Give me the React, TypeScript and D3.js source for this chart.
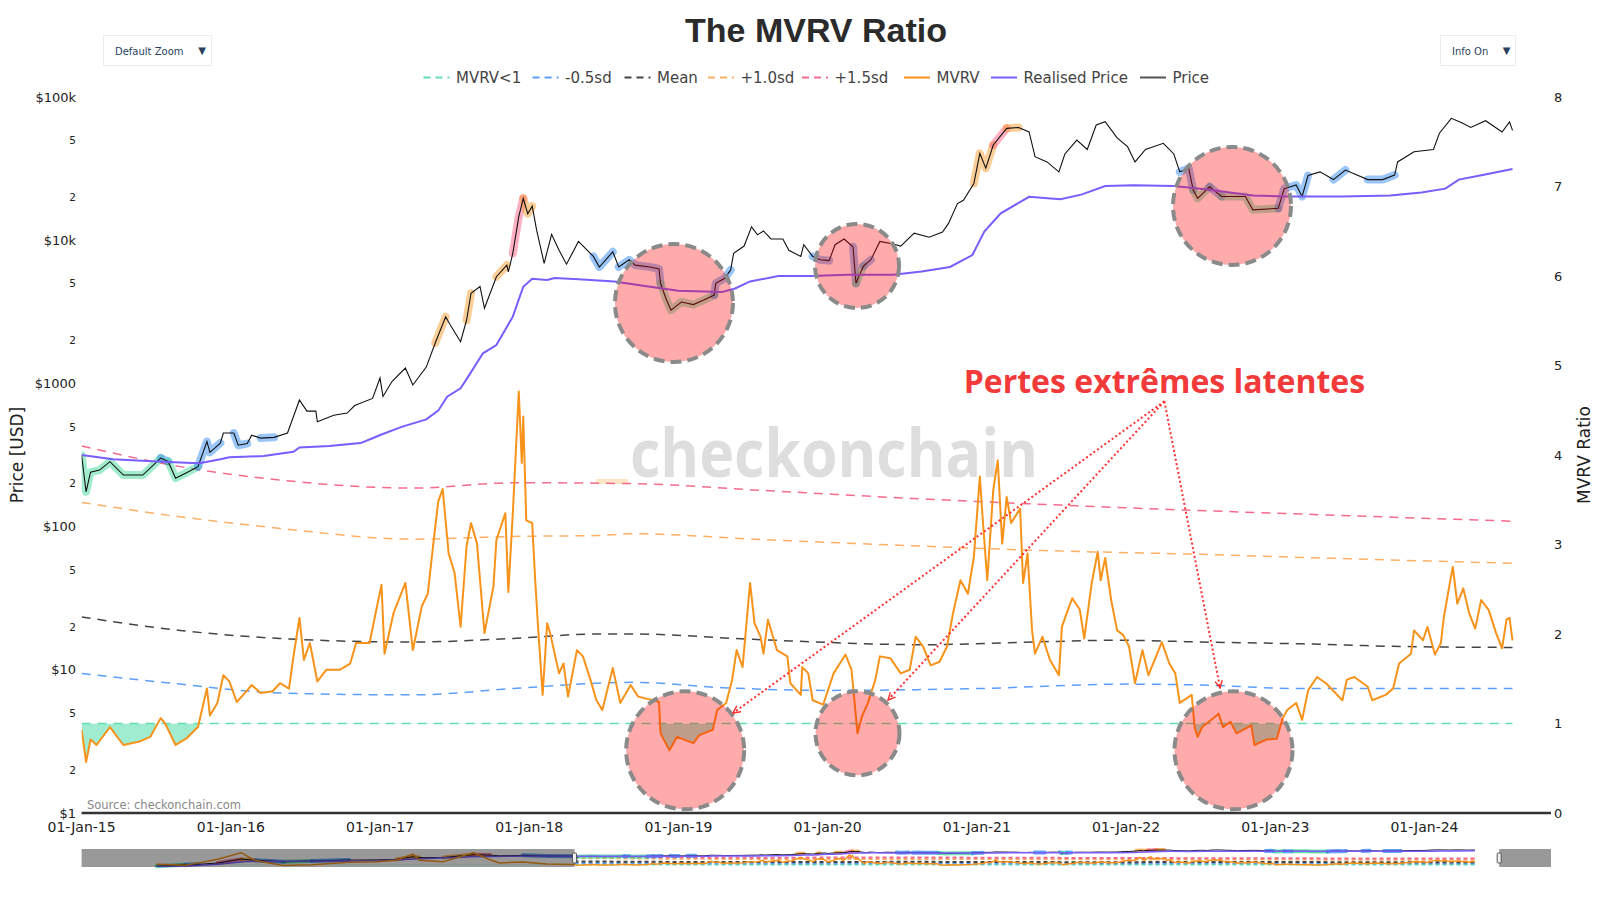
import React from 'react';
import * as d3 from 'd3';

type P = [number, number];

// ---------- DATA (decimal year, value) ----------
const price: P[] = [
  [2015.00,315],[2015.03,175],[2015.06,240],[2015.12,248],[2015.19,284],[2015.28,229],[2015.41,229],[2015.53,301],[2015.58,285],[2015.63,218],[2015.70,237],[2015.78,262],[2015.84,392],[2015.86,330],[2015.93,383],[2015.95,450],
  [2016.02,450],[2016.05,370],[2016.11,380],[2016.14,435],[2016.20,415],[2016.29,420],[2016.38,450],[2016.46,766],[2016.51,640],[2016.57,640],[2016.58,540],[2016.69,600],[2016.78,621],[2016.83,700],[2016.95,785],
  [2017.00,1090],[2017.02,810],[2017.08,1030],[2017.17,1280],[2017.22,975],[2017.31,1300],[2017.37,1915],[2017.44,2920],[2017.47,2570],[2017.54,1955],[2017.58,2760],[2017.61,4260],[2017.67,4750],[2017.70,3345],[2017.78,5560],[2017.85,6700],[2017.86,6000],[2017.89,8100],[2017.93,14600],[2017.96,19600],[2017.99,15300],
  [2018.02,17300],[2018.05,11700],[2018.10,6900],[2018.15,11000],[2018.20,8500],[2018.25,6800],[2018.33,9800],[2018.43,7700],[2018.47,6500],[2018.56,8300],[2018.60,6500],[2018.67,7300],[2018.71,6700],[2018.81,6500],[2018.87,6300],[2018.88,5000],[2018.92,3820],[2018.95,3250],
  [2019.02,3700],[2019.10,3550],[2019.17,3820],[2019.24,4140],[2019.25,5000],[2019.31,5420],[2019.35,6200],[2019.37,8100],[2019.44,9100],[2019.49,12400],[2019.53,10900],[2019.57,11600],[2019.62,10200],[2019.70,10200],[2019.74,8500],[2019.82,7700],[2019.84,9300],[2019.90,7700],[2019.95,7300],
  [2020.01,7200],[2020.05,9300],[2020.11,10200],[2020.17,9000],[2020.19,5000],[2020.24,6600],[2020.29,7300],[2020.35,9800],[2020.44,9400],[2020.49,9100],[2020.58,11200],[2020.68,10500],[2020.77,11400],[2020.81,13100],[2020.87,18000],[2020.91,19000],[2020.98,24900],
  [2021.02,40400],[2021.06,31800],[2021.11,46200],[2021.20,60400],[2021.28,61300],[2021.35,57000],[2021.39,38300],[2021.47,35200],[2021.55,30000],[2021.59,40000],[2021.67,50000],[2021.74,43000],[2021.80,63700],[2021.86,67300],[2021.94,51800],
  [2022.01,45000],[2022.06,35200],[2022.13,43000],[2022.25,47500],[2022.32,40000],[2022.36,30000],[2022.42,31800],[2022.45,22400],[2022.48,19600],[2022.56,23600],[2022.64,20200],[2022.80,20200],[2022.85,16300],
  [2023.02,16700],[2023.06,22900],[2023.14,24300],[2023.18,20200],[2023.22,28300],[2023.30,30000],[2023.39,26500],[2023.47,30900],[2023.62,26500],[2023.72,26500],[2023.80,28500],[2023.82,35200],[2023.93,41500],
  [2024.06,43000],[2024.10,55800],[2024.18,71000],[2024.25,66000],[2024.31,61300],[2024.41,68300],[2024.52,57000],[2024.57,67000],[2024.59,58500],
];

const realised: P[] = [
  [2015.00,316],[2015.21,295],[2015.44,287],[2015.66,280],[2015.79,277],[2015.93,295],[2015.99,305],[2016.22,311],[2016.42,333],[2016.46,357],[2016.66,366],[2016.87,383],[2016.95,414],
  [2017.01,440],[2017.15,499],[2017.31,561],[2017.39,645],[2017.45,807],[2017.54,925],[2017.59,1110],[2017.69,1623],[2017.78,1854],[2017.89,2924],[2017.96,4730],
  [2018.02,5370],[2018.12,5280],[2018.17,5440],[2018.33,5340],[2018.57,5150],[2018.81,4730],[2019.00,4440],[2019.29,4340],[2019.38,4600],[2019.48,5150],[2019.67,5620],[2019.89,5620],
  [2020.13,5730],[2020.44,5730],[2020.63,6050],[2020.82,6500],[2020.97,7880],[2021.05,11500],[2021.16,15400],[2021.35,20100],[2021.56,19300],[2021.70,20800],[2021.86,23900],
  [2022.05,24200],[2022.32,23900],[2022.53,22700],[2022.85,20500],[2023.07,20200],[2023.45,20200],[2023.77,20500],[2023.98,21500],[2024.14,22900],[2024.23,26500],[2024.39,28500],[2024.59,31400],
];

const mvrv: P[] = [
  [2015.00,0.93],[2015.03,0.57],[2015.06,0.82],[2015.10,0.76],[2015.19,0.96],[2015.28,0.76],[2015.39,0.80],[2015.46,0.85],[2015.53,1.06],[2015.56,1.00],[2015.63,0.76],[2015.70,0.83],[2015.78,0.96],[2015.84,1.39],[2015.86,1.09],[2015.91,1.23],[2015.95,1.54],[2015.99,1.47],
  [2016.04,1.24],[2016.11,1.37],[2016.14,1.43],[2016.20,1.34],[2016.28,1.36],[2016.33,1.45],[2016.39,1.39],[2016.42,1.75],[2016.46,2.18],[2016.49,1.71],[2016.53,1.90],[2016.58,1.47],[2016.64,1.60],[2016.73,1.60],[2016.80,1.67],[2016.84,1.90],[2016.93,1.90],[2016.98,2.31],
  [2017.01,2.55],[2017.03,1.78],[2017.09,2.23],[2017.17,2.57],[2017.22,1.82],[2017.28,2.31],[2017.32,2.45],[2017.36,3.05],[2017.39,3.48],[2017.42,3.62],[2017.46,2.90],[2017.50,2.68],[2017.54,2.08],[2017.58,2.98],[2017.61,3.24],[2017.65,3.01],[2017.70,2.01],[2017.76,2.53],[2017.78,3.05],[2017.84,3.35],[2017.86,2.47],[2017.89,3.35],[2017.93,4.71],[2017.95,3.91],[2017.96,4.43],[2017.98,3.27],
  [2018.02,3.24],[2018.04,2.60],[2018.06,2.06],[2018.09,1.32],[2018.12,2.12],[2018.14,2.01],[2018.20,1.56],[2018.23,1.67],[2018.26,1.30],[2018.32,1.82],[2018.36,1.75],[2018.41,1.49],[2018.45,1.26],[2018.49,1.15],[2018.56,1.62],[2018.61,1.23],[2018.68,1.43],[2018.73,1.30],[2018.83,1.26],[2018.87,1.24],[2018.88,0.89],[2018.94,0.70],[2018.99,0.85],
  [2019.10,0.78],[2019.14,0.87],[2019.23,0.93],[2019.26,1.15],[2019.32,1.23],[2019.36,1.49],[2019.39,1.82],[2019.43,1.63],[2019.48,2.57],[2019.51,2.12],[2019.55,1.97],[2019.57,1.78],[2019.60,2.16],[2019.66,1.82],[2019.73,1.75],[2019.75,1.45],[2019.82,1.32],[2019.83,1.63],[2019.87,1.56],[2019.90,1.26],[2019.97,1.21],
  [2020.04,1.56],[2020.12,1.77],[2020.16,1.60],[2020.20,0.89],[2020.23,1.08],[2020.27,1.23],[2020.32,1.49],[2020.35,1.75],[2020.42,1.73],[2020.49,1.56],[2020.55,1.60],[2020.59,1.97],[2020.64,1.86],[2020.69,1.65],[2020.75,1.69],[2020.80,1.86],[2020.84,2.23],[2020.89,2.60],[2020.94,2.45],[2020.98,2.86],
  [2021.02,3.76],[2021.04,3.27],[2021.07,2.60],[2021.11,3.61],[2021.14,3.94],[2021.17,3.01],[2021.20,3.53],[2021.23,3.24],[2021.29,3.40],[2021.31,2.57],[2021.34,2.90],[2021.37,2.04],[2021.39,1.78],[2021.44,1.97],[2021.49,1.71],[2021.55,1.54],[2021.57,2.08],[2021.61,2.27],[2021.64,2.40],[2021.69,2.27],[2021.72,1.95],[2021.77,2.57],[2021.81,2.92],[2021.83,2.60],[2021.86,2.85],[2021.90,2.38],[2021.94,2.04],[2021.98,1.99],
  [2022.02,1.86],[2022.06,1.45],[2022.11,1.82],[2022.15,1.54],[2022.24,1.91],[2022.29,1.67],[2022.33,1.56],[2022.36,1.23],[2022.44,1.32],[2022.46,0.95],[2022.48,0.85],[2022.51,0.96],[2022.57,1.04],[2022.62,1.11],[2022.65,0.96],[2022.70,1.02],[2022.74,0.89],[2022.84,0.98],[2022.86,0.76],[2022.94,0.82],
  [2023.01,0.83],[2023.05,1.06],[2023.08,1.15],[2023.14,1.23],[2023.18,1.04],[2023.22,1.37],[2023.28,1.52],[2023.34,1.45],[2023.45,1.26],[2023.48,1.49],[2023.53,1.52],[2023.62,1.41],[2023.65,1.26],[2023.74,1.32],[2023.79,1.39],[2023.83,1.67],[2023.91,1.78],[2023.93,2.04],[2023.99,1.93],
  [2024.02,2.08],[2024.07,1.77],[2024.11,1.90],[2024.13,2.19],[2024.17,2.57],[2024.19,2.75],[2024.22,2.34],[2024.26,2.51],[2024.30,2.23],[2024.34,2.06],[2024.38,2.38],[2024.43,2.27],[2024.48,2.01],[2024.52,1.84],[2024.55,2.16],[2024.57,2.18],[2024.59,1.93],
];

const bandPlus15: P[] = [[2015.0,4.10],[2015.66,3.87],[2016.33,3.72],[2017.22,3.63],[2017.9,3.69],[2018.7,3.68],[2019.5,3.61],[2020.5,3.52],[2021.56,3.44],[2022.0,3.41],[2023.0,3.35],[2024.59,3.26]];
const bandPlus10: P[] = [[2015.0,3.47],[2015.66,3.31],[2016.33,3.18],[2017.22,3.06],[2017.89,3.09],[2018.45,3.10],[2018.7,3.12],[2019.5,3.06],[2020.5,2.99],[2021.5,2.93],[2022.5,2.89],[2023.5,2.84],[2024.59,2.79]];
const bandMean: P[] = [[2015.0,2.19],[2015.66,2.04],[2016.33,1.95],[2017.22,1.91],[2017.89,1.95],[2018.45,2.0],[2018.7,2.0],[2019.5,1.94],[2020.66,1.88],[2021.16,1.90],[2021.96,1.93],[2022.51,1.91],[2023.18,1.89],[2023.86,1.86],[2024.59,1.85]];
const bandMinus05: P[] = [[2015.0,1.56],[2015.66,1.44],[2016.33,1.34],[2017.22,1.32],[2017.89,1.39],[2018.45,1.45],[2018.7,1.46],[2019.3,1.40],[2020.0,1.37],[2021.0,1.39],[2022.0,1.44],[2022.5,1.43],[2023.18,1.39],[2024.59,1.39]];
const bandOne: P[] = [[2015.0,1],[2024.59,1]];

// pre-2015 history, only visible in the range slider
const earlyPrice: P[] = [[2010.55,0.06],[2010.85,0.2],[2011.0,0.3],[2011.2,0.9],[2011.45,25],[2011.6,10],[2011.9,2.5],[2012.2,5],[2012.6,11],[2012.9,13],[2013.1,20],[2013.28,200],[2013.35,90],[2013.6,100],[2013.92,1100],[2014.1,800],[2014.2,450],[2014.45,640],[2014.7,400],[2015.0,315]];
const earlyRealised: P[] = [[2010.55,0.05],[2010.85,0.07],[2011.2,0.3],[2011.5,3.5],[2011.9,4.5],[2012.5,5.5],[2012.9,6.5],[2013.3,30],[2013.9,180],[2014.3,330],[2014.7,360],[2015.0,316]];
const earlyMvrv: P[] = [[2010.55,1.1],[2010.85,0.7],[2011.0,1.6],[2011.2,3],[2011.45,5.5],[2011.6,2.5],[2011.9,0.6],[2012.2,0.9],[2012.6,1.8],[2012.9,2.0],[2013.1,2.6],[2013.28,5],[2013.35,2.6],[2013.6,2.0],[2013.92,5.5],[2014.1,2.8],[2014.2,1.6],[2014.45,1.9],[2014.7,1.15],[2015.0,0.93]];

const xTickYears = [2015, 2016, 2017, 2018, 2019, 2020, 2021, 2022, 2023, 2024];
const xTickLabels = ['01-Jan-15','01-Jan-16','01-Jan-17','01-Jan-18','01-Jan-19','01-Jan-20','01-Jan-21','01-Jan-22','01-Jan-23','01-Jan-24'];
const priceMajorTicks = [1, 10, 100, 1000, 10000, 100000];
const priceMajorLabels = ['$1', '$10', '$100', '$1000', '$10k', '$100k'];
const priceMinorTicks = [2, 5, 20, 50, 200, 500, 2000, 5000, 20000, 50000];
const mvrvTicks = [0, 1, 2, 3, 4, 5, 6, 7, 8];

const legendNames = ['MVRV<1', '-0.5sd', 'Mean', '+1.0sd', '+1.5sd', 'MVRV', 'Realised Price', 'Price'];

// annotation circles: [year, value, radius px]
const circlesPrice: [number, number, number][] = [[2018.97, 3640, 59], [2020.197, 6610, 42], [2022.71, 17340, 59]];
const circlesMvrv: [number, number, number][] = [[2019.045, 0.70, 59], [2020.2, 0.89, 42], [2022.72, 0.70, 59]];
const arrowOrigin: P = [2022.257, 4.60];
const arrowTargets: P[] = [[2019.366, 1.117], [2020.405, 1.263], [2022.63, 1.397]];

// ---------- STYLE ----------
const C = {
  one: '#62dfae', minus: '#5c9ef7', mean: '#444', plus10: '#fbb066', plus15: '#f46a8c',
  mvrv: '#f7931a', realised: '#7a5cff', price: '#111',
  gGreen: '#2fd48e', gBlue: '#1f7ff0', gOrange: '#f7931a', gPink: '#ff4f7b',
};
const FONT = "'DejaVu Sans', Verdana, sans-serif";

const bis = d3.bisector((d: P) => d[0]).left;
function interp(arr: P[], t: number): number {
  const i = bis(arr, t);
  if (i <= 0) return arr[0][1];
  if (i >= arr.length) return arr[arr.length - 1][1];
  const a = arr[i - 1], b = arr[i];
  return a[1] + (b[1] - a[1]) * (t - a[0]) / (b[0] - a[0]);
}

function zoneColor(t: number, m: number): string | null {
  if (m < 1) return C.gGreen;
  if (m < interp(bandMinus05, t)) return C.gBlue;
  if (m > interp(bandPlus15, t)) return C.gPink;
  if (m > interp(bandPlus10, t)) return C.gOrange;
  return null;
}

function glowRuns(pr: P[], mv: P[]): { color: string; pts: P[] }[] {
  const runs: { color: string; pts: P[] }[] = [];
  let cur: { color: string; pts: P[] } | null = null;
  for (let i = 1; i < pr.length; i++) {
    const tm = (pr[i - 1][0] + pr[i][0]) / 2;
    const c = zoneColor(tm, interp(mv, tm));
    if (!c) { cur = null; continue; }
    if (!cur || cur.color !== c) { cur = { color: c, pts: [pr[i - 1]] }; runs.push(cur); }
    cur.pts.push(pr[i]);
  }
  return runs;
}

export default function App() {
  const L = 81.6, R = 1551, T = 97, B = 813;
  const x = d3.scaleLinear().domain([2015, 2024.848]).range([L, R]);
  const yP = d3.scaleLog().domain([1, 100000]).range([B, T]);
  const yM = d3.scaleLinear().domain([0, 8]).range([B, T]);

  const lineP = d3.line<P>().x(d => x(d[0])).y(d => yP(d[1]));
  const lineM = d3.line<P>().x(d => x(d[0])).y(d => yM(d[1]));
  const bandLine = d3.line<P>().x(d => x(d[0])).y(d => yM(d[1])).curve(d3.curveMonotoneX);
  const areaBelow = d3.area<P>().x(d => x(d[0])).y0(yM(1)).y1(d => yM(d[1]));

  const glows = glowRuns(price, mvrv);

  // range slider
  const sT = 849, sB = 867;
  const x2 = d3.scaleLinear().domain([2009.75, 2025.4]).range([L, R]);
  const yP2 = d3.scaleLog().domain([0.03, 150000]).range([sB, sT]);
  const yM2 = d3.scaleLinear().domain([0, 7]).range([sB, sT]);
  const allPrice = [...earlyPrice, ...price.slice(1)];
  const allReal = [...earlyRealised, ...realised.slice(1)];
  const allMvrv = [...earlyMvrv, ...mvrv.slice(1)];
  const lineP2 = d3.line<P>().x(d => x2(d[0])).y(d => yP2(d[1]));
  const lineM2 = d3.line<P>().x(d => x2(d[0])).y(d => yM2(d[1]));
  const bandLine2 = d3.line<P>().x(d => x2(d[0])).y(d => yM2(d[1])).curve(d3.curveMonotoneX);
  const glows2 = glowRuns(allPrice, allMvrv);
  const area2 = d3.area<P>().x(d => x2(d[0])).y0(yM2(1)).y1(d => yM2(d[1]));

  const bands: { data: P[]; color: string }[] = [
    { data: bandOne, color: C.one },
    { data: bandMinus05, color: C.minus },
    { data: bandMean, color: C.mean },
    { data: bandPlus10, color: C.plus10 },
    { data: bandPlus15, color: C.plus15 },
  ];

  const legendX = [423.5, 532.6, 624.5, 708, 802, 904, 991, 1140];
  const legendStyle = [
    { c: C.one, dash: '7,5' }, { c: C.minus, dash: '7,5' }, { c: C.mean, dash: '7,5' },
    { c: C.plus10, dash: '7,5' }, { c: C.plus15, dash: '7,5' },
    { c: C.mvrv, dash: '' }, { c: C.realised, dash: '' }, { c: '#555', dash: '' },
  ];

  const winLeft = x2(2015), winRight = x2(2024.848);

  return (
    <svg width={1600} height={900} style={{ position: 'absolute', left: 0, top: 0, background: '#fff' }} fontFamily={FONT}>
      <defs>
        <clipPath id="below1"><rect x={L} y={yM(1)} width={R - L} height={B - yM(1)} /></clipPath>
        <clipPath id="below1s"><rect x={L} y={yM2(1)} width={R - L} height={sB - yM2(1)} /></clipPath>
        <clipPath id="plot"><rect x={L} y={T - 10} width={R - L} height={B - T + 10} /></clipPath>
        <marker id="arr" viewBox="0 0 10 10" refX="9" refY="5" markerWidth="9" markerHeight="9" orient="auto" markerUnits="userSpaceOnUse">
          <path d="M1,1 L9,5 L1,9" fill="none" stroke="#ff3030" strokeWidth={1.6} />
        </marker>
      </defs>

      {/* Title */}
      <text x={816} y={42} textAnchor="middle" fontFamily="'Liberation Sans', Arial, sans-serif" fontWeight="bold" fontSize={34} fill="#2b2b2b">The MVRV Ratio</text>

      {/* Buttons */}
      <rect x={103.5} y={35.5} width={108} height={30} fill="#fff" stroke="#ececec" />
      <text x={115} y={51} dominantBaseline="central" fontSize={10} fill="#2a3f5f">Default Zoom</text>
      <text x={202} y={50.5} dominantBaseline="central" textAnchor="middle" fontSize={10} fill="#2a3f5f">▼</text>
      <rect x={1440.5} y={35.5} width={75} height={30} fill="#fff" stroke="#ececec" />
      <text x={1452} y={51} dominantBaseline="central" fontSize={10} fill="#2a3f5f">Info On</text>
      <text x={1506.5} y={50.5} dominantBaseline="central" textAnchor="middle" fontSize={10} fill="#2a3f5f">▼</text>

      {/* Legend */}
      {legendNames.map((n, i) => (
        <g key={n}>
          <line x1={legendX[i]} x2={legendX[i] + 26} y1={77.5} y2={77.5} stroke={legendStyle[i].c} strokeWidth={2} strokeDasharray={legendStyle[i].dash || undefined} />
          <text x={legendX[i] + 32.5} y={78} dominantBaseline="central" fontSize={15} fill="#444">{n}</text>
        </g>
      ))}

      {/* Watermark */}
      <rect x={596} y={479} width={32} height={5} fill="#fde6c6" />
      <text x={630} y={477} fontFamily="'Open Sans', 'Noto Sans', sans-serif" fontWeight="bold" fontSize={66} fill="#dedede" textLength={408} lengthAdjust="spacingAndGlyphs">checkonchain</text>

      {/* Left axis ticks */}
      {priceMajorTicks.map((v, i) => (
        <text key={'pm' + v} x={76} y={yP(v)} textAnchor="end" dominantBaseline="central" fontSize={13} fill="#222">{priceMajorLabels[i]}</text>
      ))}
      {priceMinorTicks.map(v => (
        <text key={'pn' + v} x={76} y={yP(v)} textAnchor="end" dominantBaseline="central" fontSize={10.5} fill="#222">{String(v).charAt(0)}</text>
      ))}
      <text transform={`translate(17,${(T + B) / 2}) rotate(-90)`} textAnchor="middle" dominantBaseline="central" fontSize={17} fill="#222">Price [USD]</text>

      {/* Right axis ticks */}
      {mvrvTicks.map(v => (
        <text key={'m' + v} x={1554} y={yM(v)} dominantBaseline="central" fontSize={13} fill="#222">{v}</text>
      ))}
      <text transform={`translate(1584,${(T + B) / 2}) rotate(-90)`} textAnchor="middle" dominantBaseline="central" fontSize={17} fill="#222">MVRV Ratio</text>

      {/* X axis */}
      {xTickYears.map((yr, i) => (
        <text key={'x' + yr} x={x(yr)} y={826.5} textAnchor="middle" dominantBaseline="central" fontSize={14} fill="#222">{xTickLabels[i]}</text>
      ))}

      <g clipPath="url(#plot)">
        {/* bands */}
        {bands.map((b, i) => (
          <path key={'b' + i} d={bandLine(b.data) || ''} fill="none" stroke={b.color} strokeWidth={1.5} strokeDasharray="9,7" />
        ))}
        {/* fill where MVRV < 1 */}
        <path d={areaBelow(mvrv) || ''} fill="#5fe0b0" fillOpacity={0.6} clipPath="url(#below1)" />
        {/* glows on price */}
        {glows.map((g, i) => (
          <path key={'g' + i} d={lineP(g.pts) || ''} fill="none" stroke={g.color} strokeWidth={8} strokeOpacity={0.45} strokeLinecap="round" strokeLinejoin="round" />
        ))}
        <path d={lineP(price) || ''} fill="none" stroke={C.price} strokeWidth={1.1} />
        <path d={lineP(realised) || ''} fill="none" stroke={C.realised} strokeWidth={2} />
        <path d={lineM(mvrv) || ''} fill="none" stroke={C.mvrv} strokeWidth={2} strokeLinejoin="round" />
      </g>

      {/* Source */}
      <text x={87} y={805} dominantBaseline="central" fontSize={11.5} fill="#888">Source: checkonchain.com</text>

      {/* axis line */}
      <line x1={L} x2={R} y1={B} y2={B} stroke="#333" strokeWidth={2.5} />

      {/* Circles */}
      {circlesPrice.map((c, i) => (
        <circle key={'cp' + i} cx={x(c[0])} cy={yP(c[1])} r={c[2]} fill="#ff0000" fillOpacity={0.33} stroke="#8a8a8a" strokeWidth={4} strokeDasharray="11,6" />
      ))}
      {circlesMvrv.map((c, i) => (
        <circle key={'cm' + i} cx={x(c[0])} cy={yM(c[1])} r={c[2]} fill="#ff0000" fillOpacity={0.33} stroke="#8a8a8a" strokeWidth={4} strokeDasharray="11,6" />
      ))}

      {/* Arrows */}
      {arrowTargets.map((a, i) => (
        <line key={'a' + i} x1={x(arrowOrigin[0])} y1={yM(arrowOrigin[1])} x2={x(a[0])} y2={yM(a[1])} stroke="#ff3030" strokeWidth={2} strokeDasharray="2,2.5" markerEnd="url(#arr)" />
      ))}
      <text x={x(arrowOrigin[0])} y={393} textAnchor="middle" fontFamily="'Open Sans', 'Noto Sans', sans-serif" fontWeight="bold" fontSize={32} fill="#f23a3a">Pertes extrêmes latentes</text>

      {/* Range slider */}
      <rect x={L} y={sT} width={R - L} height={sB - sT} fill="#fff" />
      <g>
        {bands.map((b, i) => (
          <path key={'sb' + i} d={bandLine2(b.data) || ''} fill="none" stroke={b.color} strokeWidth={2} strokeDasharray="4,3" />
        ))}
        <path d={area2(allMvrv) || ''} fill="#5fe0b0" fillOpacity={0.6} clipPath="url(#below1s)" />
        {glows2.map((g, i) => (
          <path key={'sg' + i} d={lineP2(g.pts) || ''} fill="none" stroke={g.color} strokeWidth={4} strokeOpacity={0.7} strokeLinecap="round" />
        ))}
        <path d={lineP2(allPrice) || ''} fill="none" stroke={C.price} strokeWidth={1} />
        <path d={lineP2(allReal) || ''} fill="none" stroke={C.realised} strokeWidth={1.5} />
        <path d={lineM2(allMvrv) || ''} fill="none" stroke={C.mvrv} strokeWidth={1.5} />
      </g>
      <rect x={L} y={sT} width={winLeft - L} height={sB - sT} fill="#000" fillOpacity={0.4} />
      <rect x={winRight} y={sT} width={R - winRight} height={sB - sT} fill="#000" fillOpacity={0.4} />
      <rect x={winLeft - 2} y={sT + 4} width={4} height={10} rx={1} fill="#eee" stroke="#555" strokeWidth={1} />
      <rect x={winRight - 2} y={sT + 4} width={4} height={10} rx={1} fill="#eee" stroke="#555" strokeWidth={1} />
    </svg>
  );
}
